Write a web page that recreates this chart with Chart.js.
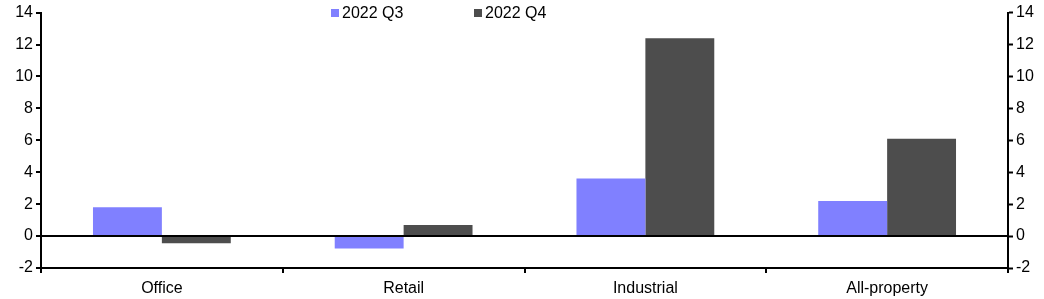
<!DOCTYPE html>
<html>
<head>
<meta charset="utf-8">
<script src="https://cdn.jsdelivr.net/npm/chart.js@4"></script>
<style>
  html, body { margin: 0; padding: 0; background: #fff; }
  #wrap { width: 1044px; height: 299px; }
</style>
</head>
<body>
<div id="wrap"><canvas id="chart" width="1044" height="299"></canvas></div>
<script>
const categories = ['Office', 'Retail', 'Industrial', 'All-property'];
const q3Values = [1.8, -0.78, 3.6, 2.2];
const q4Values = [-0.45, 0.7, 12.4, 6.1];
const seriesNames = ['2022 Q3', '2022 Q4'];
const seriesColors = ['#8080ff', '#4d4d4d'];
const yMin = -2, yMax = 14, yStep = 2;

const FONT = { family: 'Liberation Sans, Arial, sans-serif', size: 16 };

// légende dessinée à la main, par-dessus le haut du graphique
const legendePlugin = {
    id: 'legendeHaut',
    afterDraw(chart) {
        const c = chart.ctx;
        const positions = [331, 474];
        c.save();
        c.font = FONT.size + 'px ' + FONT.family;
        c.textBaseline = 'middle';
        chart.data.datasets.forEach((ds, i) => {
            const x = positions[i];
            c.fillStyle = ds.backgroundColor;
            c.fillRect(x, 9, 8, 8);
            c.fillStyle = '#000';
            c.fillText(ds.label, x + 11, 13.5);
        });
        c.restore();
    }
};

const gridY = {
    drawOnChartArea: true,
    color: ctx => (ctx.tick && ctx.tick.value === 0) ? '#000' : 'transparent',
    lineWidth: 2,
    tickColor: '#000',
    tickLength: 5,
    tickWidth: 2
};

new Chart(document.getElementById('chart').getContext('2d'), {
    type: 'bar',
    data: {
        labels: categories,
        datasets: [
            { label: seriesNames[0], data: q3Values, backgroundColor: seriesColors[0] },
            { label: seriesNames[1], data: q4Values, backgroundColor: seriesColors[1] }
        ]
    },
    options: {
        responsive: false,
        animation: false,
        layout: { padding: { top: 12, left: 0, right: 0, bottom: 0 } },
        datasets: { bar: { categoryPercentage: 0.57, barPercentage: 1.0 } },
        plugins: { legend: { display: false }, tooltip: { enabled: false } },
        scales: {
            x: {
                offset: true,
                grid: { offset: true, drawOnChartArea: false, color: '#000', tickLength: 5, lineWidth: 2 },
                border: { display: true, color: '#000', width: 2 },
                ticks: { color: '#000', font: FONT, padding: 6 },
                afterFit: s => { s.height = 31; }
            },
            y: {
                position: 'left',
                min: yMin, max: yMax,
                ticks: { stepSize: yStep, color: '#000', font: FONT, padding: 3 },
                grid: gridY,
                border: { display: true, color: '#000', width: 2 },
                afterFit: s => { s.width = 41; }
            },
            y2: {
                position: 'right',
                min: yMin, max: yMax,
                ticks: { stepSize: yStep, color: '#000', font: FONT, padding: 3 },
                grid: { drawOnChartArea: false, tickColor: '#000', tickLength: 5, tickWidth: 2 },
                border: { display: true, color: '#000', width: 2 },
                afterFit: s => { s.width = 36; }
            }
        }
    },
    plugins: [legendePlugin]
});
</script>
</body>
</html>
